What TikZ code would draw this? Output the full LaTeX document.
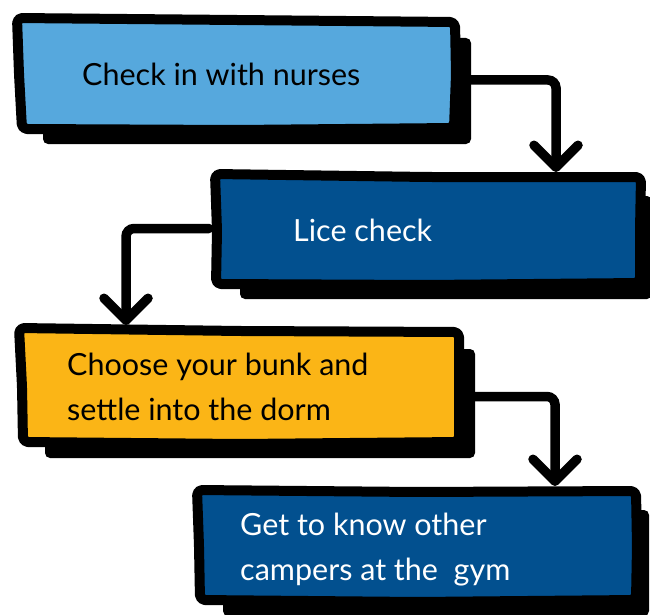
\documentclass[tikz,border=0pt]{standalone}
\usepackage{fontspec}
\setmainfont{Lato}
\usetikzlibrary{arrows.meta,calc,backgrounds}
\definecolor{lblue}{HTML}{56A8DD}
\definecolor{dblue}{HTML}{02508F}
\definecolor{amber}{HTML}{FBB516}
\begin{document}
\begin{tikzpicture}[x=1pt,y=-1pt,
  frame/.style={inner sep=0pt, outer sep=0pt},
  outline/.style={draw=black, line width=10pt, rounded corners=5pt, line join=round},
  shadowbox/.style={fill=black, rounded corners=5pt},
  label/.style={anchor=west, inner sep=0pt, align=left, font=\fontsize{30.5}{45}\selectfont},
  arr/.style={line width=9.5pt, rounded corners=8pt, line cap=round, -{Straight Barb[length=22pt,width=44pt,round]}}
]
\useasboundingbox (0,0) rectangle (650,615);
% invisible frames naming the boxes
\node[frame, minimum width=440pt, minimum height=112pt] (b1) at (237,74) {};
\node[frame, minimum width=427pt, minimum height=109pt] (b2) at (427.5,230.5) {};
\node[frame, minimum width=442pt, minimum height=115pt] (b3) at (240,386.5) {};
\node[frame, minimum width=441pt, minimum height=112pt] (b4) at (417.5,546) {};
% shadows
\fill[shadowbox] ($(b1.north west)+(26,20)$) rectangle ($(b1.south east)+(14,14)$);
\fill[shadowbox] ($(b2.north west)+(26,20)$) rectangle ($(b2.south east)+(11,14)$);
\fill[shadowbox] ($(b3.north west)+(26,20)$) rectangle ($(b3.south east)+(14,14)$);
\fill[shadowbox] ($(b4.north west)+(26,20)$) rectangle ($(b4.south east)+(11,14)$);
% hand-drawn boxes
\path[outline, fill=lblue] (b1.north west) -- ($(b1.north)+(0,2)$) -- ($(b1.north east)+(-2,4)$)
  -- ($(b1.east)+(-1,0)$) -- ($(b1.south east)+(-3,-2)$) -- ($(b1.south)+(0,0)$) -- ($(b1.south west)+(5,-1)$)
  -- ($(b1.west)+(2,0)$) -- cycle;
\path[outline, fill=dblue] ($(b2.north west)+(1,-2)$) -- ($(b2.north)+(0,1)$) -- ($(b2.north east)+(0,1)$)
  -- ($(b2.east)+(-1,0)$) -- ($(b2.south east)+(-1,-2)$) -- ($(b2.south)+(0,0)$) -- ($(b2.south west)+(2,-1)$)
  -- ($(b2.west)+(3,0)$) -- cycle;
\path[outline, fill=amber] ($(b3.north west)+(0,-1)$) -- ($(b3.north)+(0,2)$) -- ($(b3.north east)+(-2,3)$)
  -- ($(b3.east)+(-2,0)$) -- ($(b3.south east)+(-2,-2)$) -- ($(b3.south)+(0,0)$) -- ($(b3.south west)+(4,-2)$)
  -- ($(b3.west)+(3,0)$) -- cycle;
\path[outline, fill=dblue] ($(b4.north west)+(0,0)$) -- ($(b4.north)+(0,2)$) -- ($(b4.north east)+(-2,1)$)
  -- ($(b4.east)+(-1,0)$) -- ($(b4.south east)+(-2,-2)$) -- ($(b4.south)+(0,0)$) -- ($(b4.south west)+(3,-2)$)
  -- ($(b4.west)+(2,0)$) -- cycle;
% texts
\node[label, text=black] (t1) at ($(b1.west)+(65,0)$) {Check in with nurses};
\node[label, text=white] (t2) at ($(b2.west)+(79,0)$) {Lice check};
\node[label, text=black] (t3) at ($(b3.west)+(48,0)$) {Choose your bunk and\\settle into the dorm};
\node[label, text=white] (t4) at ($(b4.west)+(43,4)$) {Get to know other\\campers at the\ \ gym};
% connectors
\draw[arr] ($(b1.east)+(5,6)$) -| ($(b2.north west)+(342,-4)$);
\draw[arr] ($(b2.west)+(-5,-2)$) -| ($(b3.north west)+(107,-4)$);
\draw[arr] ($(b3.east)+(5,10)$) -| ($(b4.north west)+(358,-4)$);
\end{tikzpicture}
\end{document}
